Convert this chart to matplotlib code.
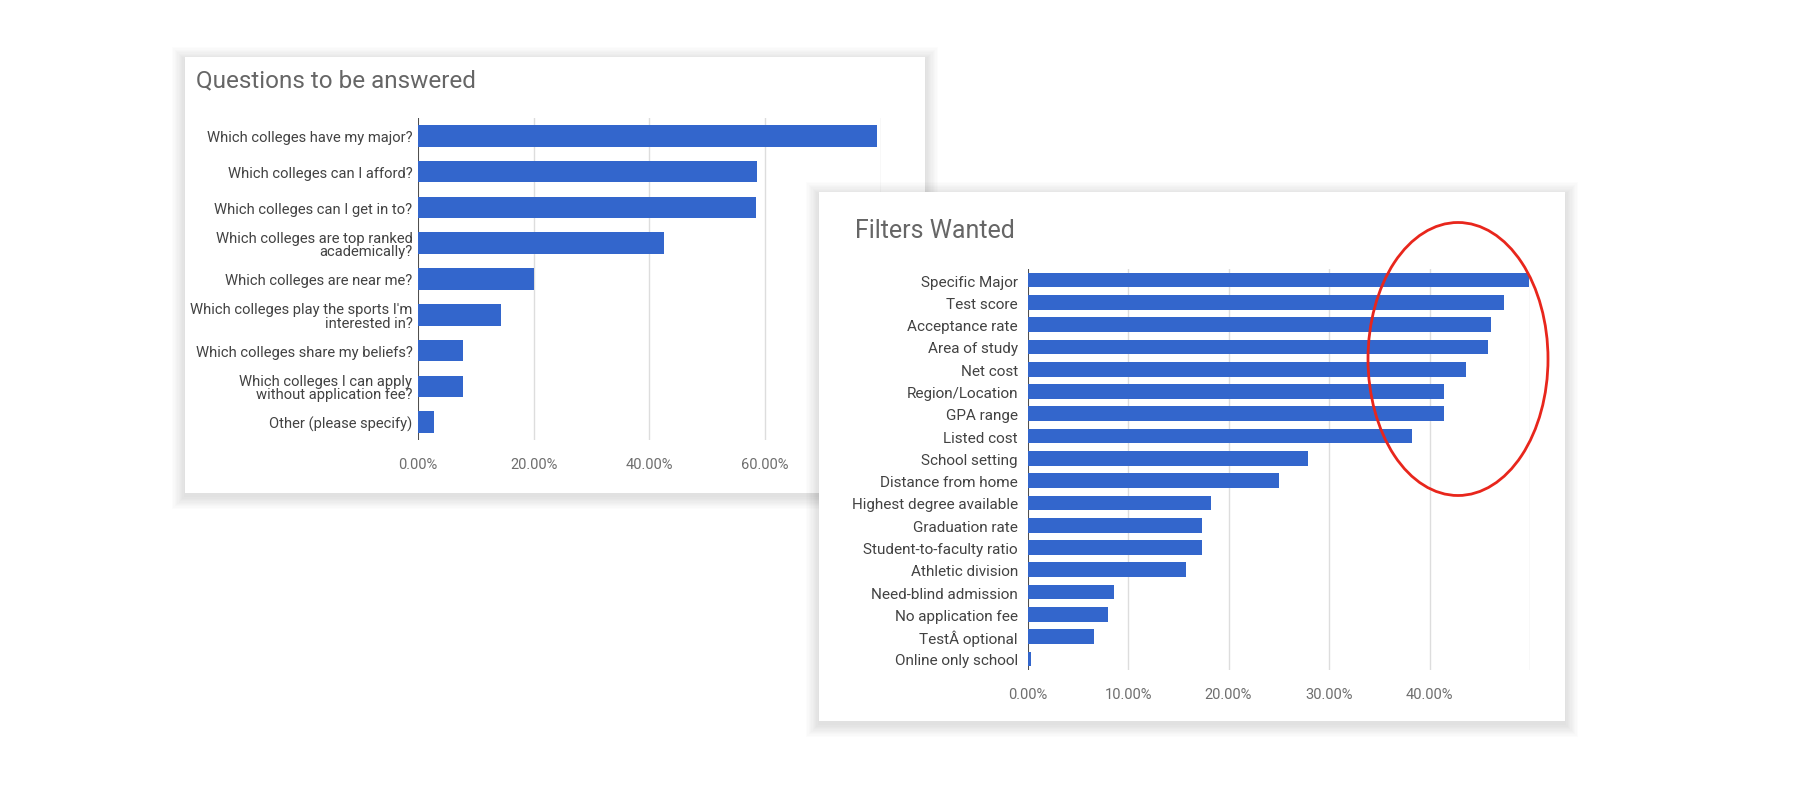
"""
plot.py

Two survey bar charts on cards, with a highlight ring.
"""

import matplotlib.pyplot as plt
from matplotlib.patches import Rectangle, Ellipse
from matplotlib.ticker import FuncFormatter

plt.rcParams["font.family"] = ["Roboto", "DejaVu Sans"]

W, H = 1800, 804

question_labels = [
    "Which colleges have my major?",
    "Which colleges can I afford?",
    "Which colleges can I get in to?",
    "Which colleges are top ranked\nacademically?",
    "Which colleges are near me?",
    "Which colleges play the sports I'm\ninterested in?",
    "Which colleges share my beliefs?",
    "Which colleges I can apply\nwithout application fee?",
    "Other (please specify)",
]
question_values = [79.4, 58.6, 58.4, 42.6, 20.0, 14.4, 7.7, 7.7, 2.8]
question_ticks = [0, 20, 40, 60, 80]

filter_labels = [
    "Specific Major",
    "Test score",
    "Acceptance rate",
    "Area of study",
    "Net cost",
    "Region/Location",
    "GPA range",
    "Listed cost",
    "School setting",
    "Distance from home",
    "Highest degree available",
    "Graduation rate",
    "Student-to-faculty ratio",
    "Athletic division",
    "Need-blind admission",
    "No application fee",
    "TestÂ optional",
    "Online only school",
]
filter_values = [
    49.9, 47.4, 46.1, 45.8, 43.6, 41.4, 41.4, 38.3, 27.9,
    25.0, 18.3, 17.4, 17.4, 15.8, 8.6, 8.0, 6.6, 0.3,
]
filter_ticks = [0, 10, 20, 30, 40, 50]

BAR = "#3366cc"


def fig_box(x0, y0, x1, y1):
    # pixel box (top-left origin) -> figure fraction rect
    return [x0 / W, 1 - y1 / H, (x1 - x0) / W, (y1 - y0) / H]


def add_card(fig, x0, y0, x1, y1, z):
    # soft drop shadow, stacked faint rectangles
    for i in range(10, 0, -1):
        grow = i * 1.3
        shift = 3
        shadow = Rectangle(
            ((x0 - grow) / W, 1 - (y1 + grow + shift) / H),
            (x1 - x0 + 2 * grow) / W,
            (y1 - y0 + 2 * grow) / H,
            transform=fig.transFigure,
            facecolor="black",
            edgecolor="none",
            alpha=0.011,
            zorder=z,
        )
        fig.patches.append(shadow)
    card = Rectangle(
        (x0 / W, 1 - y1 / H),
        (x1 - x0) / W,
        (y1 - y0) / H,
        transform=fig.transFigure,
        facecolor="white",
        edgecolor="none",
        zorder=z,
    )
    fig.patches.append(card)


def bar_chart(fig, box, labels, values, ticks, shown, height, size, pad, z):
    ax = fig.add_axes(fig_box(*box))
    ax.set_zorder(z)
    ax.patch.set_alpha(0)
    pos = list(range(len(labels)))
    ax.barh(pos, values, height=height, color=BAR, zorder=5)
    ax.set_ylim(len(labels) - 0.5, -0.5)
    ax.set_xlim(ticks[0], ticks[-1])
    ax.set_yticks(pos)
    ax.set_yticklabels(labels, fontsize=size, color="#424242", linespacing=0.95)
    ax.set_xticks(ticks)
    ax.xaxis.set_major_formatter(
        FuncFormatter(lambda v, _: f"{v:.2f}%" if v <= shown else "")
    )
    ax.tick_params(axis="y", length=0, pad=pad)
    ax.tick_params(axis="x", length=0, pad=12, labelsize=10.5, labelcolor="#6e6e6e")
    ax.grid(axis="x", color="#dddddd", linewidth=1, zorder=1)
    ax.axvline(0, color="#333333", linewidth=1.2, zorder=4)
    for side in ["top", "right", "bottom", "left"]:
        ax.spines[side].set_visible(False)
    return ax


fig = plt.figure(figsize=(18, 8.04), dpi=100)
fig.patch.set_facecolor("white")

# left card
add_card(fig, 185, 58, 925, 494, 1)
fig.text(
    196 / W, 1 - 81 / H, "Questions to be answered",
    fontsize=17.5, color="#666666", va="center", ha="left", zorder=2,
)
bar_chart(
    fig, (418, 119, 880.5, 441), question_labels, question_values,
    question_ticks, 60, 0.6, 10.6, 4, 2,
)

# right card
add_card(fig, 819, 193, 1565, 722, 3)
fig.text(
    855 / W, 1 - 231 / H, "Filters Wanted",
    fontsize=18, color="#666666", va="center", ha="left", zorder=4,
)
bar_chart(
    fig, (1027.6, 270, 1530, 671), filter_labels, filter_values,
    filter_ticks, 40, 0.66, 11, 7, 4,
)

ring = Ellipse(
    (1458 / W, 1 - 360 / H),
    180 / W,
    273 / H,
    transform=fig.transFigure,
    facecolor="none",
    edgecolor="#e8261c",
    linewidth=2,
    zorder=6,
)
fig.patches.append(ring)

fig.savefig("out.png", dpi=100)
